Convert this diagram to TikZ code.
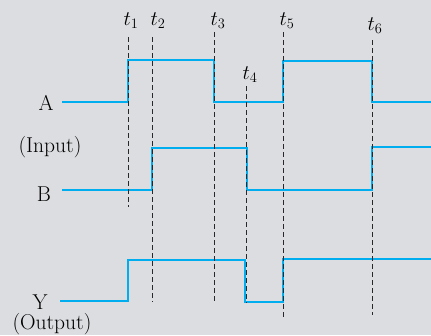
\documentclass[tikz,border=0pt]{standalone}
\usepackage{tikz}
\usetikzlibrary{positioning}
\definecolor{paper}{RGB}{220,221,224}
\definecolor{wave}{RGB}{0,174,239}
\definecolor{guide}{RGB}{40,40,40}

\begin{document}
\begin{tikzpicture}[
  x=1pt, y=-1pt,
  sig/.style={draw=wave, line width=2.4pt, line join=miter},
  tick/.style={draw=guide, line width=0.9pt, dash pattern=on 5pt off 3pt},
  tlab/.style={font=\fontsize{21}{25}\selectfont, inner sep=0pt},
  lab/.style={font=\fontsize{21.5}{25}\selectfont, inner sep=0pt}]
  \fill[paper] (0,0) rectangle (431,335);
  \useasboundingbox (0,0) rectangle (431,335);
  % waveforms
  \draw[sig] (62,102) -- (128,102) -- (128,60) -- (214,60) -- (214,102)
    -- (283,102) -- (283,61) -- (372,61) -- (372,102) -- (431,102);
  \draw[sig] (62,190) -- (152,190) -- (152,148) -- (247,148) -- (247,190)
    -- (372,190) -- (372,147) -- (431,147);
  \draw[sig] (60,301) -- (128,301) -- (128,260) -- (245,260) -- (245,302)
    -- (283,302) -- (283,259) -- (431,259);
  % time marks
  \draw[tick] (128,37) -- (128,207);
  \draw[tick] (152,37) -- (152,302);
  \draw[tick] (214,32) -- (214,302);
  \draw[tick] (246,86) -- (246,303);
  \draw[tick] (283,32) -- (283,319);
  \draw[tick] (372,40) -- (372,315);
  \node[tlab] (t1) at (131,21) {$t_1$};
  \node[tlab] (t2) at (158,21) {$t_2$};
  \node[tlab] (t3) at (218,21) {$t_3$};
  \node[tlab] (t4) at (250,75) {$t_4$};
  \node[tlab] (t5) at (287,21) {$t_5$};
  \node[tlab] (t6) at (375,26) {$t_6$};
  % signal names
  \node[lab] (inA) at (46,103) {A};
  \node[lab] (inTag) at (50,147) {(Input)};
  \node[lab] (inB) at (44,194) {B};
  \node[lab] (outY) at (40,302) {Y};
  \node[lab] (outTag) at (52,324) {(Output)};
\end{tikzpicture}
\end{document}
